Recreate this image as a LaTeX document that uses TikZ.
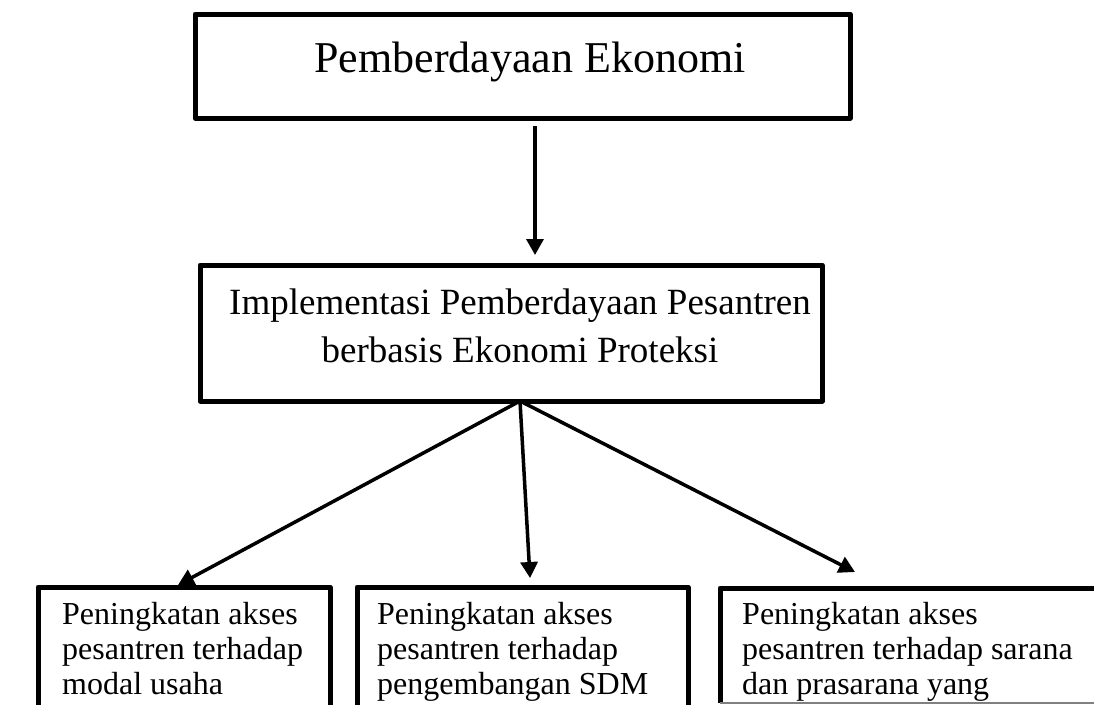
\documentclass[tikz,border=0pt]{standalone}
\usepackage{fontspec}
\setmainfont{Liberation Serif}
\usetikzlibrary{arrows.meta}
\begin{document}
\begin{tikzpicture}[x=1pt,y=-1pt,
  boxline/.style={line width=5pt, line join=round},
  framebox/.style={draw, boxline, inner sep=0pt, outer sep=0pt, anchor=north west},
  arr/.style={line width=3.5pt, -{Triangle[length=16pt,width=17pt]}},
  bigtext/.style={font=\fontsize{44}{50}\selectfont, inner sep=0pt},
  midtext/.style={font=\fontsize{37}{48}\selectfont, inner sep=0pt, align=center},
  smalltext/.style={font=\fontsize{32}{35}\selectfont, inner sep=0pt, align=left, anchor=north west}]
\useasboundingbox (0,0) rectangle (1094,704);
\clip (0,0) rectangle (1094,704);
% boxes
\node[framebox, minimum width=655pt, minimum height=104pt] (top) at (195,14) {};
\node[framebox, minimum width=622pt, minimum height=136pt] (mid) at (200,265) {};
\node[framebox, minimum width=292pt, minimum height=200pt] (b1) at (38,587) {};
\node[framebox, minimum width=331pt, minimum height=200pt] (b2) at (357,587) {};
\node[inner sep=0pt, outer sep=0pt, anchor=north west, minimum width=400pt, minimum height=115pt] (b3) at (720,588) {};
\draw[boxline] (b3.north east) -- (b3.north west) -- (b3.south west);
\draw[gray, line width=1.5pt] (b3.south west) -- (b3.south east);
% texts
\node[bigtext, anchor=base] (toptext) at (530,72) {Pemberdayaan Ekonomi};
\node[midtext, anchor=north] (midtxt) at (520,288.7) {Implementasi Pemberdayaan Pesantren\\berbasis Ekonomi Proteksi};
\node[smalltext] (t1) at (62,602) {Peningkatan akses\\pesantren terhadap\\modal usaha};
\node[smalltext] (t2) at (377,602) {Peningkatan akses\\pesantren terhadap\\pengembangan SDM};
\node[smalltext] (t3) at (742,602) {Peningkatan akses\\pesantren terhadap sarana\\dan prasarana yang};
% connectors
\coordinate (a1) at (535,0);
\coordinate (fan) at (520,0);
\coordinate (tip1) at (178,585);
\coordinate (tip2) at (530,578);
\coordinate (tip3) at (855,572);
\draw[arr, shorten <=8pt, shorten >=10pt] (top.south -| a1) -- (mid.north -| a1);
\draw[arr] (mid.south -| fan) -- (tip1);
\draw[arr] (mid.south -| fan) -- (tip2);
\draw[arr] (mid.south -| fan) -- (tip3);
\end{tikzpicture}
\end{document}
